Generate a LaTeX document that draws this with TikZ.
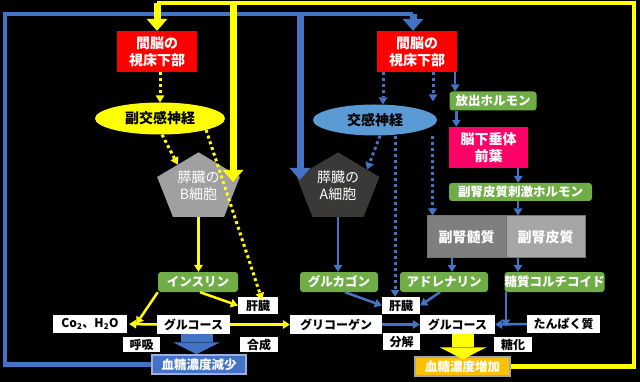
\documentclass[tikz,border=0pt]{standalone}
\usepackage{fontspec}
\setmainfont{Noto Sans CJK JP}
\usetikzlibrary{arrows.meta,shapes.geometric,positioning,calc}

\definecolor{ylw}{RGB}{255,255,0}
\definecolor{blu}{RGB}{68,114,196}
\definecolor{ellblu}{RGB}{91,155,213}
\definecolor{hred}{RGB}{255,0,0}
\definecolor{hpink}{RGB}{255,0,102}
\definecolor{hgreen}{RGB}{112,173,71}
\definecolor{pgrayB}{RGB}{160,160,160}
\definecolor{pgrayA}{RGB}{59,56,56}
\definecolor{medgray}{RGB}{127,127,127}
\definecolor{corgray}{RGB}{166,166,166}
\definecolor{orng}{RGB}{255,192,0}

\newcommand{\fbig}{\fontsize{14}{17}\selectfont}
\newcommand{\fmid}{\fontsize{12.5}{14}\selectfont}
\newcommand{\fsml}{\fontsize{12}{14}\selectfont}
\newcommand{\unsq}[1]{\raisebox{-3pt}{\scalebox{1}[1.22]{\begin{tabular}{@{}c@{}}#1\end{tabular}}}}

\begin{document}
\begin{tikzpicture}[x=1pt, y=-1pt,
    hypo/.style={fill=hred, minimum width=80pt, minimum height=41pt, inner sep=0pt, align=center, text=white, font=\fbig\bfseries},
    ell/.style={ellipse, inner sep=0pt, text=black, font=\fbig\bfseries},
    pent/.style={regular polygon, regular polygon sides=5, minimum size=87pt, inner sep=0pt, yscale=0.82, text=white, font=\fbig},
    horm/.style={fill=hgreen, rounded corners=3pt, minimum height=20pt, inner sep=0pt, text=white, font=\fmid\bfseries},
    gland/.style={draw=black!55, line width=1pt, minimum width=79pt, minimum height=42pt, inner sep=0pt, text=white, font=\fbig\bfseries},
    wbox/.style={fill=white, minimum height=18pt, inner sep=0pt, text=black, font=\fsml\bfseries},
    res/.style={line width=1.5pt, minimum height=19pt, inner sep=0pt, text=white, font=\fmid\bfseries},
    yarr/.style={draw=ylw, line width=2.5pt, -{Triangle[width=9pt,length=7pt,line width=0pt]}},
    barr/.style={draw=blu, line width=2.5pt, -{Triangle[width=9pt,length=7pt,line width=0pt]}},
    ydot/.style={yarr, dash pattern=on 3pt off 3pt, line width=3pt},
    bdot/.style={barr, dash pattern=on 3pt off 3pt, line width=3pt},
    yline/.style={draw=ylw, line width=4.5pt},
    bline/.style={draw=blu, line width=4.5pt},
    ybig/.style={draw=ylw, line width=7pt, -{Triangle[width=21pt,length=12pt,line width=0pt]}},
    bbig/.style={draw=blu, line width=7pt, -{Triangle[width=21pt,length=12pt,line width=0pt]}},
    blk/.style={line width=#1, -{Triangle[width=47pt,length=12pt,line width=0pt]}}
]
\fill[black] (0,0) rectangle (640,382);
\useasboundingbox (0,0) rectangle (640,382);

% hypothalamus, nerves, pancreas
\node[hypo] (hypL) at (157,51.5) {間脳の\\視床下部};
\node[hypo] (hypR) at (417,51.5) {間脳の\\視床下部};
\node[ell, fill=ylw, minimum width=130pt, minimum height=32pt] (ellP) at (160,118.5) {副交感神経};
\node[ell, fill=ellblu, minimum width=124pt, minimum height=31pt] (ellS) at (375,120) {交感神経};
\node[pent, fill=pgrayB] (pB) at (198.5,188) {\unsq{膵臓の\\B細胞}};
\node[pent, fill=pgrayA] (pA) at (338,188) {\unsq{膵臓の\\A細胞}};

% pituitary and adrenal
\node[horm, minimum width=87pt, minimum height=19pt] (hrel) at (493,101) {放出ホルモン};
\node[hypo, fill=hpink, minimum width=79pt] (pit) at (488.5,147.5) {脳下垂体\\前葉};
\node[horm, minimum width=143pt, minimum height=18pt] (hacth) at (520.5,192) {副腎皮質刺激ホルモン};
\node[gland, fill=medgray] (med) at (466.5,237) {副腎髄質};
\node[gland, fill=corgray] (cor) at (545.5,237) {副腎皮質};

% hormones
\node[horm, minimum width=80pt] (hins) at (198,282) {インスリン};
\node[horm, minimum width=78pt] (hglu) at (339,282) {グルカゴン};
\node[horm, minimum width=88pt] (hadr) at (444,282) {アドレナリン};
\node[horm, minimum width=95pt] (hcor) at (554.5,282) {糖質コルチコイド};

% substances
\node[wbox, minimum width=40pt, minimum height=17pt] (livL) at (258,305.5) {肝臓};
\node[wbox, minimum width=74pt] (co2) at (90,324) {Co\textsubscript{2}、H\textsubscript{2}O};
\node[wbox, minimum width=73pt, minimum height=19pt] (glcL) at (193.5,324.5) {グルコース};
\node[wbox, minimum width=37pt, minimum height=15pt] (resp) at (141.5,344.5) {呼吸};
\node[wbox, minimum width=38pt, minimum height=15pt] (syn) at (259,344.5) {合成};
\node[wbox, minimum width=92pt, minimum height=19pt] (gen) at (336,324.5) {グリコーゲン};
\node[wbox, minimum width=38pt, minimum height=17pt] (livR) at (401,305.5) {肝臓};
\node[wbox, minimum width=75pt, minimum height=19pt] (glcR) at (457.5,324.5) {グルコース};
\node[wbox, minimum width=37pt, minimum height=17pt] (dec) at (401.5,341.5) {分解};
\node[wbox, minimum width=73pt] (pro) at (563.5,324) {たんぱく質};
\node[wbox, minimum width=38pt, minimum height=15pt] (sug) at (513,344.5) {糖化};
\node[res, fill=blu, draw=blu!55!white, minimum width=94pt] (lowB) at (199,364.5) {血糖濃度減少};
\node[res, fill=orng, draw=black!35, minimum width=95pt] (highB) at (462.5,366.5) {血糖濃度増加};

% feedback loops
\coordinate (bTL) at (5,14);
\coordinate (bTR) at (413,14);
\coordinate (bTA) at (300,14);
\coordinate (yTL) at (157,3);
\coordinate (yTR) at (634,3);
\coordinate (yTB) at (233,3);
\draw[bline] (lowB.west) -| (bTL) -- (bTR);
\draw[bbig] (bTR) -- (bTR |- hypR.north);
\draw[bbig] (bTA) -- ([yshift=-3pt]bTA |- pA.corner 2);
\draw[yline] (highB.east) -| (yTR) -- (yTL);
\draw[ybig] (yTL) -- (hypL.north);
\draw[ybig] (yTB) -- ([yshift=-5pt]yTB |- pB.corner 5);

% parasympathetic side
\draw[ydot] ([xshift=3pt]hypL.south) -- ([xshift=3pt]hypL.south |- ellP.north);
\draw[ydot] ([xshift=2pt]ellP.south) -- ($(pB.corner 1)!0.5!(pB.corner 2)$);
\draw[ydot] (ellP.south east) -- ([xshift=4pt,yshift=-3pt]livL.north);
\draw[yarr] (pB.south) -- (pB.south |- hins.north);
\draw[yarr] (hins.south west) -- ([xshift=9pt]co2.east);
\draw[yarr] ([xshift=2pt]hins.south) -- (livL.west);
\draw[yarr, shorten >=2pt] (glcL.west) -- (co2.east);
\draw[yarr] (glcL.east) -- (gen.west);
\draw[blu, blk=32pt] ([xshift=3pt]glcL.south) -- ([xshift=3pt]glcL.south |- lowB.north);

% sympathetic side
\draw[bdot] ([xshift=-34pt]hypR.south) -- ([xshift=-34pt]hypR.south |- ellS.north);
\draw[bdot] ([xshift=16pt]hypR.south) -- ([xshift=16pt,yshift=3pt]hypR.south |- ellS.north);
\draw[bdot] ([xshift=6pt]med.north west |- ellS.south) -- ([xshift=6pt]med.north west);
\draw[bdot] ([xshift=5pt]ellS.south) -- ($(pA.corner 1)!0.7!(pA.corner 5)$);
\draw[bdot] ([xshift=-6pt]livR.north |- ellS.south) -- ([xshift=-6pt]livR.north);
\draw[barr] (pA.south) -- (pA.south |- hglu.north);
\draw[barr] ([xshift=6pt]hglu.south) -- (livR.west);
\draw[barr] ([xshift=-4pt]hadr.south) -- (livR.east);
\draw[barr] (gen.east) -- (glcR.west);

% pituitary route
\draw[barr] ([xshift=-2pt]hypR.south east) -- ([xshift=-2pt]hypR.south east |- hrel.north);
\draw[barr] ([xshift=7pt]hrel.south west) -- ([xshift=7pt]hrel.south west |- pit.north);
\draw[barr] ([xshift=-10pt]pit.south east) -- ([xshift=-10pt]pit.south east |- hacth.north);
\draw[barr] ([xshift=-2.5pt]hacth.south) -- ([xshift=-2.5pt]hacth.south |- cor.north);
\draw[barr] ([xshift=-14.5pt]med.south) -- ([xshift=-14.5pt]med.south |- hadr.north);
\draw[barr] ([xshift=-27.5pt]cor.south) -- ([xshift=-27.5pt]cor.south |- hcor.north);
\draw[barr] (pro.west) -- (glcR.east);
\draw[barr] ([xshift=1.5pt]hcor.south west) -- ([xshift=1.5pt,yshift=-2pt]hcor.south west |- glcR.east);
\draw[ylw, blk=22pt] ([xshift=5.5pt]glcR.south) -- ([xshift=5.5pt,yshift=-3pt]glcR.south |- highB.north);
\end{tikzpicture}
\end{document}
